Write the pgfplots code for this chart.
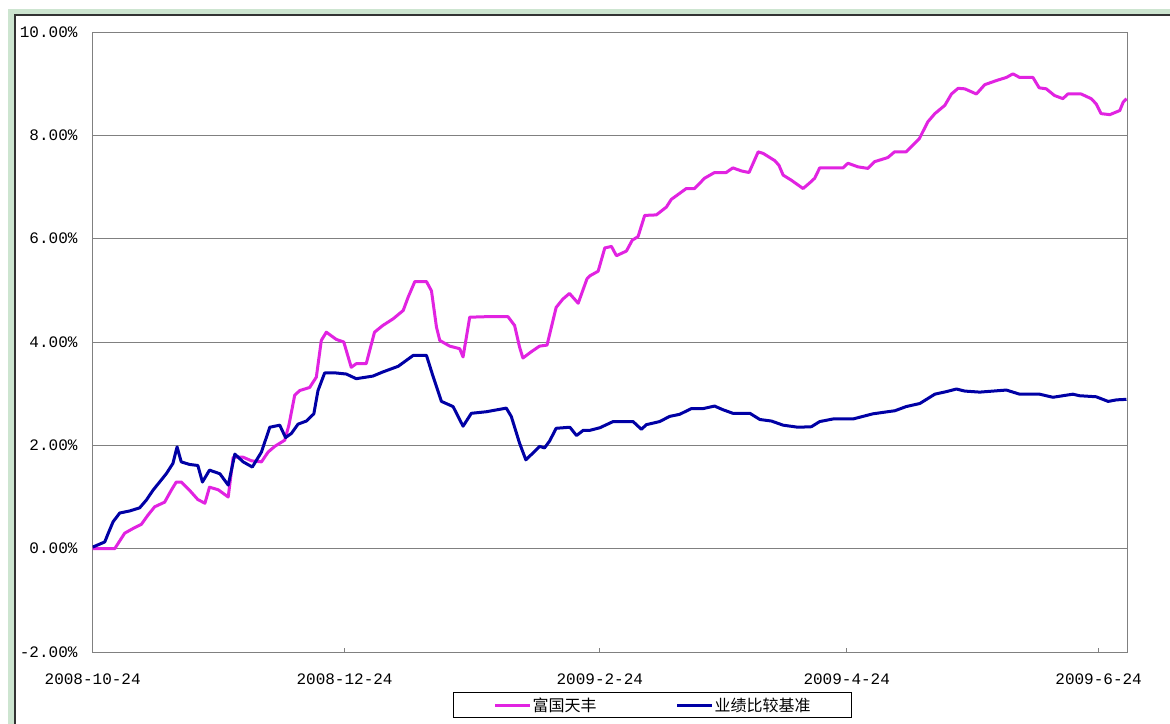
\documentclass[border=0pt]{standalone}
\usepackage{fontspec}
\usepackage{pgfplots}
\usepackage{pgfplotstable}
\pgfplotsset{compat=1.18}

\newfontfamily\tickfont{Liberation Mono}
\newfontfamily\cjk{Noto Sans CJK SC}

\definecolor{fundpink}{RGB}{225,35,225}
\definecolor{benchblue}{RGB}{0,0,165}
\definecolor{framegreen}{RGB}{205,229,208}

% x = days since 2008-10-24, y = cumulative return in %
\pgfplotstableread{
day value
0 0
5.3 0
7.7 0.30
9.7 0.39
11.7 0.47
13.3 0.65
14.9 0.81
17.3 0.90
18.9 1.13
20.1 1.29
21.3 1.29
23.3 1.13
25.3 0.95
27 0.88
28.1 1.19
30.2 1.14
32.6 1.00
33.8 1.77
36.2 1.77
38.2 1.70
40.6 1.68
42.2 1.87
43.8 1.98
46.2 2.10
47.2 2.39
48.6 2.97
49.8 3.06
52.2 3.12
53.8 3.32
55 4.03
56.2 4.19
58.6 4.05
60.4 4.00
62.2 3.51
63.4 3.58
65.8 3.58
67.8 4.19
69.8 4.32
72.3 4.45
74.7 4.61
75.9 4.87
77.5 5.17
80.3 5.17
81.5 4.99
82.7 4.29
83.5 4.03
85.9 3.92
88.3 3.87
89.1 3.71
90.7 4.48
94.7 4.49
99.9 4.49
101.5 4.32
102.7 3.90
103.5 3.69
105.5 3.81
107.5 3.92
109.3 3.94
111.5 4.67
113.1 4.83
114.7 4.94
116.8 4.75
118.9 5.22
119.6 5.28
121.6 5.37
123.2 5.82
124.8 5.85
126 5.67
128.4 5.76
129.8 5.97
131.2 6.04
132.8 6.45
135.6 6.46
138 6.61
139.2 6.76
140.4 6.83
142.8 6.97
144.8 6.97
147.2 7.17
149.6 7.28
152.4 7.28
154 7.37
156.1 7.31
157.9 7.28
160.1 7.68
161.3 7.65
164.1 7.51
165.1 7.42
166.1 7.23
168.1 7.13
170.9 6.97
172.5 7.08
173.7 7.17
174.9 7.37
180.5 7.37
181.7 7.46
184.1 7.39
186.5 7.36
188.1 7.49
191.3 7.57
192.9 7.68
195.7 7.68
198.9 7.94
200.9 8.26
202.6 8.42
205 8.58
206.6 8.80
208.2 8.91
209.8 8.90
212.6 8.80
214.6 8.98
217.4 9.06
219.8 9.12
221.4 9.19
223 9.12
226.2 9.12
227.7 8.92
229.4 8.90
231.4 8.77
233.4 8.71
234.6 8.80
237.8 8.80
240.2 8.71
241.4 8.61
242.6 8.42
244.7 8.40
247.1 8.48
247.9 8.64
248.7 8.71
}\fund

\pgfplotstableread{
day value
0 0.03
2.9 0.13
3.7 0.29
4.9 0.52
6.5 0.69
8.9 0.73
11.3 0.79
12.9 0.94
14.5 1.13
16.1 1.29
17.7 1.45
19.3 1.65
20.3 1.97
21.3 1.68
23.3 1.63
25.3 1.61
26.4 1.29
28.1 1.52
30.6 1.45
32.6 1.23
34.2 1.83
36.2 1.68
38.4 1.58
40.6 1.87
42.6 2.35
45 2.39
46.4 2.15
47.8 2.23
49.4 2.41
51.4 2.47
53.2 2.61
54.2 3.06
55.8 3.40
58.6 3.40
61 3.38
63.4 3.29
67.4 3.34
69.8 3.42
73.5 3.53
77.1 3.74
80.3 3.74
81.9 3.33
83.9 2.85
86.7 2.75
87.9 2.56
89.1 2.37
91.1 2.62
94.7 2.65
99.5 2.72
100.7 2.56
102.7 2.04
104.2 1.72
105.9 1.85
107.5 1.98
108.7 1.95
109.9 2.08
111.5 2.33
114.8 2.35
116.4 2.19
118 2.29
119.6 2.29
122 2.34
125.2 2.46
130 2.46
132 2.31
133.2 2.40
136.4 2.46
138.8 2.56
141.2 2.60
144 2.71
146.8 2.71
149.6 2.76
151.6 2.69
154 2.62
158.1 2.62
160.5 2.50
163.3 2.47
166.1 2.39
169.7 2.35
172.9 2.36
174.9 2.46
178.1 2.51
182.9 2.51
187.7 2.61
193 2.67
195.7 2.75
199 2.81
202.6 2.99
205.4 3.04
207.8 3.09
209.8 3.05
213.4 3.03
216.6 3.05
219.8 3.07
223 2.99
227.8 2.99
231 2.93
235.8 2.99
237.4 2.96
241.4 2.94
244.3 2.85
246.3 2.88
248.7 2.89
}\bench

\begin{document}
\begin{tikzpicture}
% page and frame
\path[use as bounding box] (-92.7bp,-72bp) rectangle (1077.3bp,652bp);
\fill[white] (-92.7bp,-72bp) rectangle (1077.3bp,652bp);
\fill[framegreen] (-84.7bp,-72bp) rectangle (1077.3bp,643bp);
\fill[white] (-77.7bp,-72bp) rectangle (1077.3bp,637bp);
\draw[black!80, line width=1.2bp] (-77.7bp,-72bp) -- (-77.7bp,637bp) -- (1077.3bp,637bp);

\begin{axis}[
  at={(0,0)}, anchor=south west,
  scale only axis,
  width=1035bp, height=620bp,
  xmin=0, xmax=249,
  ymin=-2, ymax=10,
  axis line style={draw=gray, line width=0.8bp},
  ymajorgrids,
  grid style={gray, line width=0.8bp},
  tick pos=left,
  tick align=inside,
  major tick length=4bp,
  tick style={gray, line width=0.8bp},
  ytick={-2,0,2,4,6,8,10},
  yticklabels={-2.00\%,0.00\%,2.00\%,4.00\%,6.00\%,8.00\%,10.00\%},
  xtick={0,60.6,122,181.4,242},
  xticklabels={2008-10-24,2008-12-24,2009-2-24,2009-4-24,2009-6-24},
  tick label style={font=\tickfont\fontsize{16bp}{18bp}\selectfont, black},
  xticklabel style={anchor=center, yshift=-27bp},
  yticklabel style={anchor=east, inner xsep=0bp, xshift=-15bp},
  legend columns=2,
  legend image code/.code={\draw[#1, line width=3bp] (0bp,0bp) -- (35bp,0bp);},
  legend style={
    at={(0.5409,-0.0855)}, anchor=center,
    draw=black, line width=1.2bp,
    inner xsep=40bp, inner ysep=3bp,
    column sep=0bp,
    nodes={inner xsep=1bp, inner ysep=2bp, font=\cjk\fontsize{16bp}{18bp}\selectfont},
    /tikz/every even column/.append style={column sep=78bp},
  },
  legend cell align=left,
]
\addplot[fundpink, line width=3bp, line join=round] table[x=day, y=value] {\fund};
\addlegendentry{富国天丰}
\addplot[benchblue, line width=3bp, line join=round] table[x=day, y=value] {\bench};
\addlegendentry{业绩比较基准}
\end{axis}
\end{tikzpicture}
\end{document}
